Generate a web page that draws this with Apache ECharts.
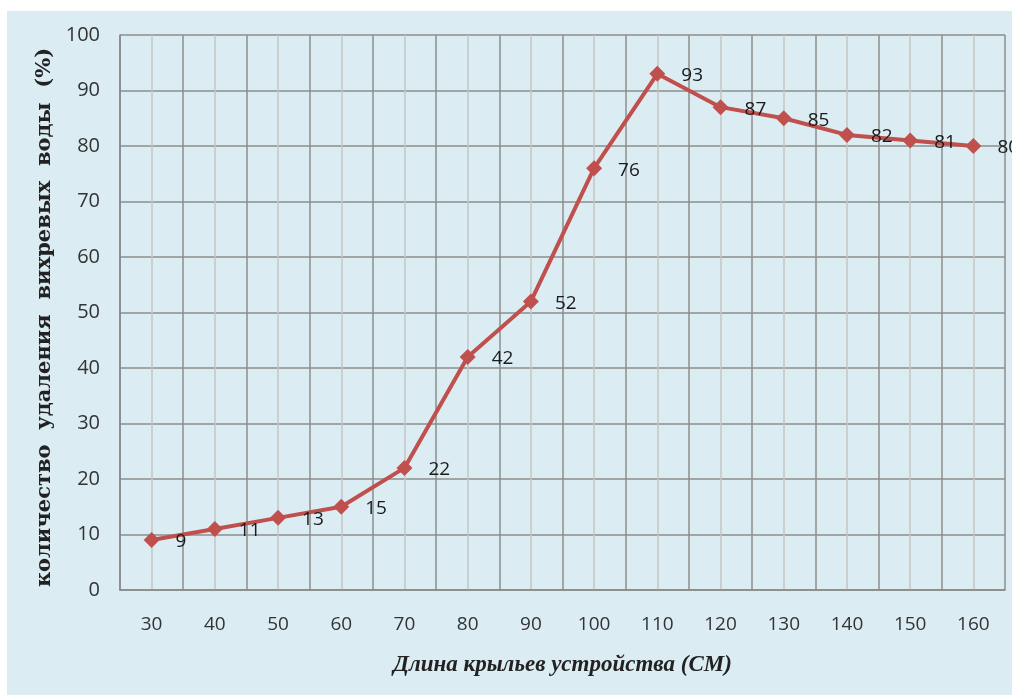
<!DOCTYPE html>
<html><head><meta charset="utf-8">
<style>html,body{margin:0;padding:0;background:#fff}#c{width:1012px;height:695px}</style>
<script src="https://cdn.jsdelivr.net/npm/echarts@6/dist/echarts.min.js"></script>
</head><body><div id="c"></div>
<script>
const lengths = ['30','40','50','60','70','80','90','100','110','120','130','140','150','160'];
const removal = [9, 11, 13, 15, 22, 42, 52, 76, 93, 87, 85, 82, 81, 80];
const yTitle = 'количество  удаления  вихревых  воды  (%)';
const xTitle = 'Длина крыльев устройства (СМ)';

const chart = echarts.init(document.getElementById('c'));
chart.setOption({
  animation: false,
  graphic: [{type:'rect', z:-10, silent:true, shape:{x:7,y:11,width:1005,height:684}, style:{fill:'#dbedf3'}}],
  grid: {left:120, right:7, top:35, bottom:105},
  xAxis: [{
    type:'category', data:lengths, boundaryGap:true,
    axisLine:{show:true, lineStyle:{color:'#888', width:1.5}},
    axisTick:{show:false},
    splitLine:{show:false},
    axisLabel:{margin:25, fontSize:19, color:'#333', fontFamily:'Open Sans'},
    name: xTitle, nameLocation:'middle', nameGap:64,
    nameTextStyle:{fontFamily:'Liberation Serif', fontStyle:'italic', fontWeight:'bold', fontSize:23, color:'#222'}
  },{
    type:'value', min:0, max:28, interval:1, position:'bottom',
    axisLine:{show:false}, axisTick:{show:false}, axisLabel:{show:false},
    splitLine:{show:true, lineStyle:{color:['#8c8c8c','#c4c4c4'], width:1.5}}
  }],
  yAxis: {
    type:'value', min:0, max:100, interval:10,
    axisLine:{show:true, lineStyle:{color:'#888', width:1.5}},
    axisTick:{show:false},
    splitLine:{show:true, lineStyle:{color:'#8c8c8c', width:1.5}},
    axisLabel:{margin:20, fontSize:20, color:'#333', fontFamily:'Open Sans'},
    name: yTitle, nameLocation:'middle', nameGap:64, nameRotate:90,
    nameTextStyle:{fontFamily:'DejaVu Serif', fontWeight:'bold', fontSize:21, color:'#222', padding:[0,10,0,0]}
  },
  series: [{
    type:'line', data:removal, xAxisIndex:0,
    symbol:'diamond', symbolSize:16,
    lineStyle:{color:'#c0504d', width:4},
    itemStyle:{color:'#c0504d'},
    label:{show:true, position:'right', distance:16, offset:[0,2], fontSize:19, color:'#1a1a1a', fontFamily:'Open Sans'}
  }]
});
</script></body></html>
